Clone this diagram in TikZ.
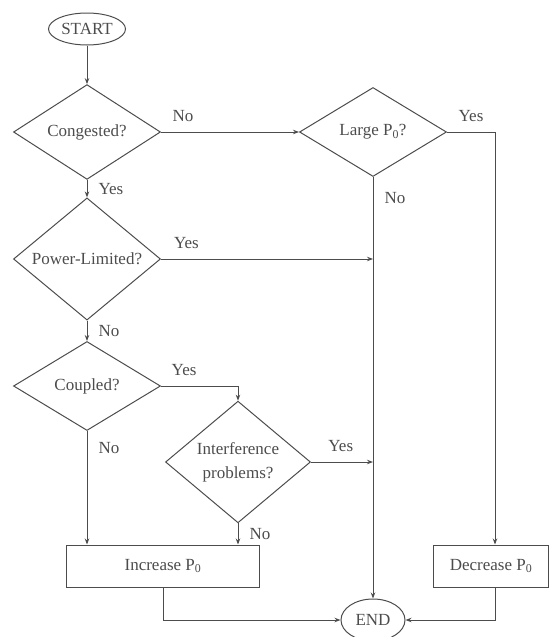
\documentclass[tikz,border=0pt]{standalone}
\usepackage{fontspec}
\setmainfont{Liberation Serif}
\usetikzlibrary{positioning,shapes.geometric,calc,arrows.meta}
\newcommand{\flowfont}{\fontsize{17}{22}\selectfont}

\begin{document}
\begin{tikzpicture}[x=1pt,y=-1pt,
                       line width=1pt,color=black!70,font=\flowfont,
                       flow/.style={-{Stealth[length=6pt,width=4.5pt]}},
                       decision node/.style={diamond,draw,inner sep=0pt,align=center,minimum width=147pt,minimum height=89pt},
                       term node/.style={ellipse,draw,inner sep=0pt},
                       box node/.style={rectangle,draw,inner sep=2pt,minimum height=42pt},
                       lbl/.style={inner sep=1pt}
                      ]
  \useasboundingbox (0,0) rectangle (550,637);

  \node[term node,minimum width=77pt,minimum height=32pt] (start) at (87,29) {START};
  \node[decision node] (cong) at (87,132) {Congested?};
  \node[decision node] (large) at (373,132) {Large P\textsubscript{0}?};
  \node[decision node] (pow) at (87,259) {Power-Limited?};
  \node[decision node] (coup) at (87,386) {Coupled?};
  \node[decision node,minimum width=145pt] (inter) at (238,462) {Interference\\[2pt]problems?};
  \node[box node,minimum width=193pt] (inc) at (163,566) {Increase P\textsubscript{0}};
  \node[box node,minimum width=115pt] (dec) at (491,566) {Decrease P\textsubscript{0}};
  \node[term node,minimum width=64pt,minimum height=42pt] (end) at (373,620) {END};
  \coordinate (yes corner) at (495,132);

  \draw[flow] (start) -- (cong);
  \draw[flow] (cong) -- node[lbl,pos=.16,above=9pt] {No} (large);
  \draw[flow] (cong) -- node[lbl,right=10pt] {Yes} (pow);
  \draw[flow] (pow) -- node[lbl,right=10pt] {No} (coup);
  \draw[flow] (pow.east) -- node[lbl,pos=.12,above=9pt] {Yes} (pow.east -| large.south);
  \draw[flow] (coup.east) -| node[lbl,pos=.15,above=9pt] {Yes} (inter.north);
  \draw[flow] (coup.south) -- node[lbl,pos=.15,right=10pt] {No} (coup.south |- inc.north);
  \draw[flow] (inter.east) -- node[lbl,pos=.48,above=9pt] {Yes} (inter.east -| large.south);
  \draw[flow] (inter.south) -- node[lbl,right=10pt] {No} (inter.south |- inc.north);
  \draw[flow] (large) -- node[lbl,pos=.05,right=10pt] {No} (end);
  \draw[flow] (large.east) -- node[lbl,above=9pt] {Yes} (yes corner) -- (yes corner |- dec.north);
  \draw[flow] (inc.south) |- (end.west);
  \draw[flow] (yes corner |- dec.south) |- (end.east);

\end{tikzpicture}
\end{document}
